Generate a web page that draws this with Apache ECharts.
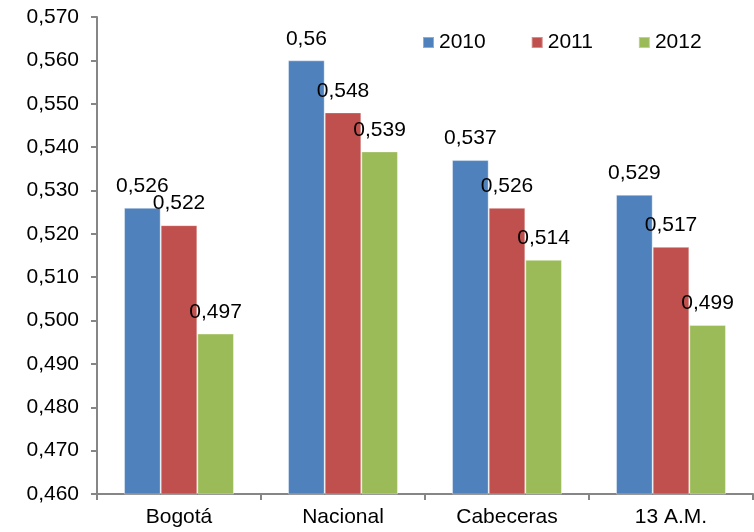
<!DOCTYPE html>
<html><head><meta charset="utf-8">
<script src="https://cdn.jsdelivr.net/npm/echarts@6/dist/echarts.min.js"></script>
<style>html,body{margin:0;padding:0;background:#fff}#c{width:754px;height:532px}</style>
</head><body><div id="c"></div>
<script>
var categories = ['Bogotá', 'Nacional', 'Cabeceras', '13 A.M.'];
var seriesNames = ['2010', '2011', '2012'];
var v2010 = [0.526, 0.56, 0.537, 0.529];
var v2011 = [0.522, 0.548, 0.526, 0.517];
var v2012 = [0.497, 0.539, 0.514, 0.499];
var colors = ['#4F81BD', '#C0504D', '#9BBB59'];
var FONT = 'Liberation Sans, Arial, sans-serif';
var FS = 21;

var chart = echarts.init(document.getElementById('c'), null, {renderer: 'canvas'});
function mk(name, data, color) {
  return {
    name: name, type: 'bar', data: data, barGap: '0%', barCategoryGap: '33%',
    itemStyle: {color: color, borderColor: 'rgba(255,255,255,0.35)', borderWidth: 1},
    label: {show: true, position: 'top', distance: 11, color: '#000', fontFamily: FONT, fontSize: FS,
      formatter: function (p) { return String(p.value).replace('.', ','); }}
  };
}
chart.setOption({
  animation: false,
  backgroundColor: '#fff',
  grid: {left: 97, right: 1, top: 17, bottom: 38, containLabel: false},
  legend: {
    data: seriesNames, top: 32, left: 422, padding: 0, itemWidth: 11, itemHeight: 11, itemGap: 45,
    icon: 'rect', textStyle: {fontFamily: FONT, fontSize: FS, color: '#000'}
  },
  xAxis: {
    type: 'category', data: categories,
    axisLine: {lineStyle: {color: '#868686', width: 2}},
    axisTick: {show: true, length: 6, lineStyle: {color: '#868686', width: 2}},
    axisLabel: {fontFamily: FONT, fontSize: FS, color: '#000', margin: 13}
  },
  yAxis: {
    type: 'value', min: 0.46, max: 0.57, interval: 0.01,
    splitLine: {show: false},
    axisLine: {show: true, lineStyle: {color: '#868686', width: 2}},
    axisTick: {show: true, length: 6, lineStyle: {color: '#868686', width: 2}},
    axisLabel: {fontFamily: FONT, fontSize: FS, color: '#000', margin: 18,
      formatter: function (v) { return v.toFixed(3).replace('.', ','); }}
  },
  series: [mk(seriesNames[0], v2010, colors[0]), mk(seriesNames[1], v2011, colors[1]), mk(seriesNames[2], v2012, colors[2])]
});
</script></body></html>
